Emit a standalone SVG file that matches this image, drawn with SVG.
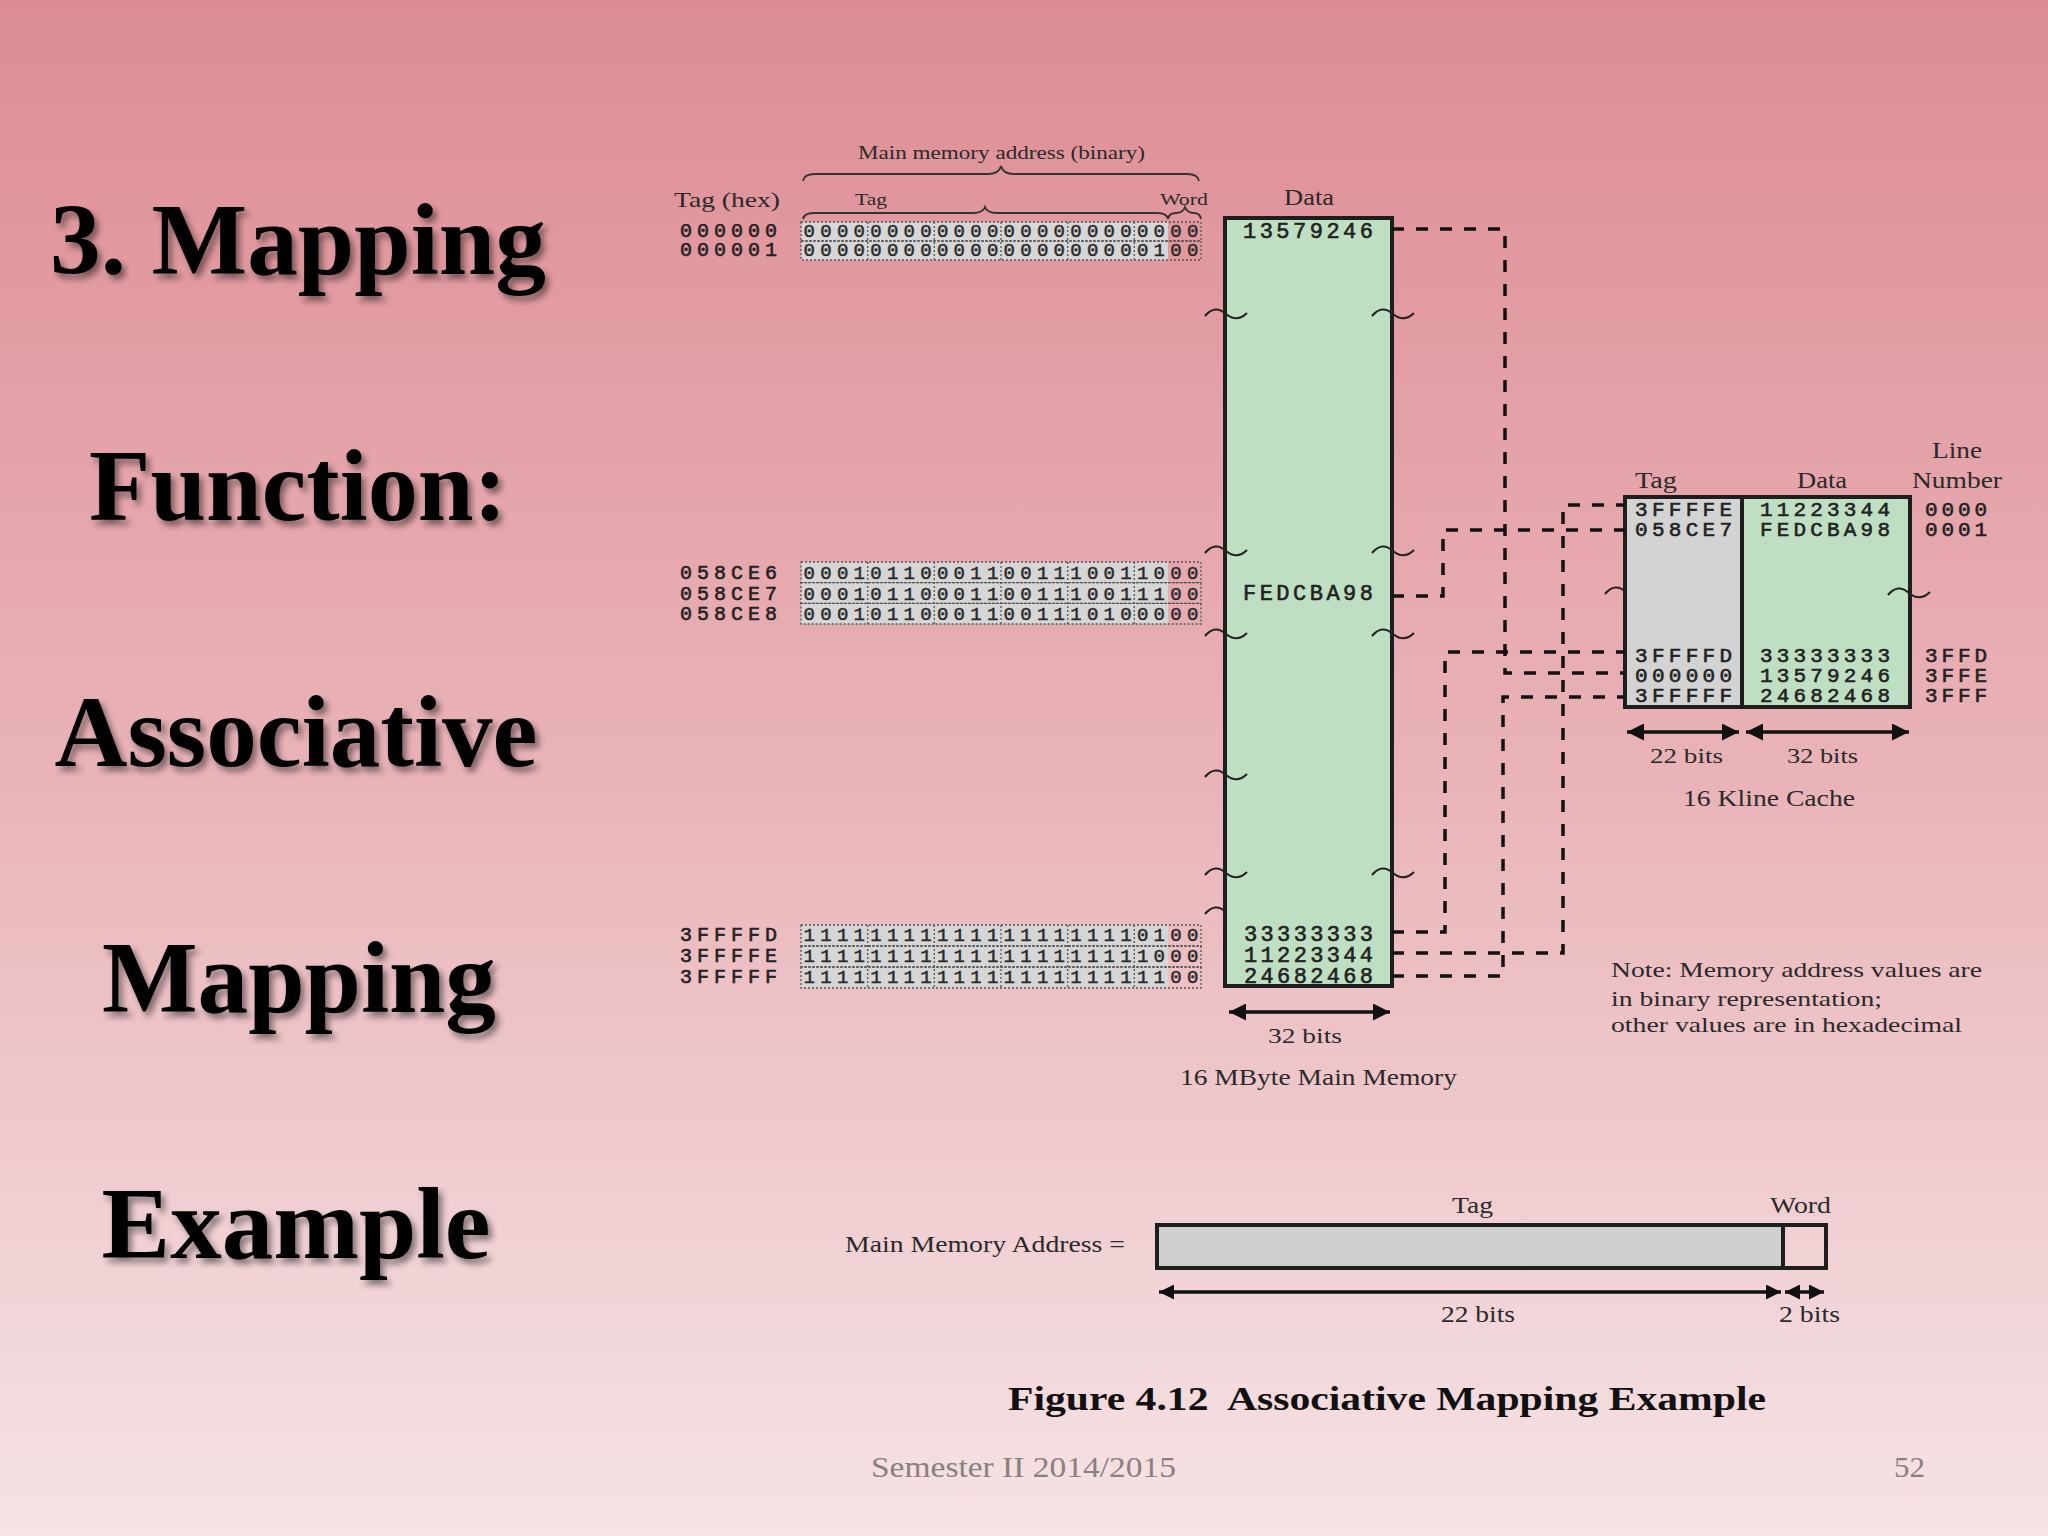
<svg xmlns="http://www.w3.org/2000/svg" xmlns:xlink="http://www.w3.org/1999/xlink" width="2048" height="1536" viewBox="0 0 2048 1536">
<defs>
  <linearGradient id="bg" x1="0" y1="0" x2="0" y2="1">
    <stop offset="0" stop-color="#dd8c93"/>
    <stop offset="0.5" stop-color="#e9b3b8"/>
    <stop offset="1" stop-color="#f5e3e5"/>
  </linearGradient>
  <filter id="shadow" x="-10%" y="-20%" width="130%" height="150%">
    <feDropShadow dx="4" dy="5" stdDeviation="3" flood-color="#000" flood-opacity="0.45"/>
  </filter>
  <marker id="ah" viewBox="0 0 10 10" refX="10" refY="5" markerWidth="22" markerHeight="17" markerUnits="userSpaceOnUse" orient="auto-start-reverse">
    <path d="M0,0 L10,5 L0,10 z" fill="#111"/>
  </marker>
  <marker id="ahs" viewBox="0 0 10 10" refX="10" refY="5" markerWidth="17" markerHeight="15" markerUnits="userSpaceOnUse" orient="auto-start-reverse">
    <path d="M0,0 L10,5 L0,10 z" fill="#111"/>
  </marker>
  <path id="sq" d="M-21,2 Q-11,-10 0,0 Q11,9 21,-1" fill="none" stroke="#222" stroke-width="2"/>
  <path id="sqh" d="M-21,2 Q-11,-10 0,0" fill="none" stroke="#222" stroke-width="2"/>
  <style>
    .title{font-family:"Liberation Serif","Times New Roman",serif;font-weight:bold;font-size:102px;fill:#000;text-anchor:middle}
    .lbl{font-family:"Liberation Serif","Times New Roman",serif;fill:#2a2a2a}
    .mono{font-family:"Liberation Mono","Courier New",monospace;fill:#222;stroke:#222;stroke-width:0.6}
    .bits{font-family:"Liberation Mono","Courier New",monospace;font-size:19px;fill:#2a2a2a;stroke:#2a2a2a;stroke-width:0.5}
    .rowtag{fill:#d6d6d6;stroke:none}
    .rowbox{fill:none;stroke:#555;stroke-width:1.3;stroke-dasharray:2 2}
    .sep{stroke:#555;stroke-width:1.3;stroke-dasharray:2 2}
    .brace{fill:none;stroke:#333;stroke-width:1.8}
    .box{stroke:#1e1e1e;stroke-width:4}
    .dash{fill:none;stroke:#111;stroke-width:3.5;stroke-dasharray:12 12}
    .arr{stroke:#111;stroke-width:3.5;fill:none}
    .foot{font-family:"Liberation Serif","Times New Roman",serif;fill:#8c7f80;font-size:30px}
  </style>
</defs>

<rect x="0" y="0" width="2048" height="1536" fill="url(#bg)"/>

<g id="title" filter="url(#shadow)">
  <text class="title" x="298" y="274" textLength="496" lengthAdjust="spacingAndGlyphs">3. Mapping</text>
  <text class="title" x="298" y="520" textLength="418" lengthAdjust="spacingAndGlyphs">Function:</text>
  <text class="title" x="296" y="766" textLength="483" lengthAdjust="spacingAndGlyphs">Associative</text>
  <text class="title" x="299" y="1012" textLength="394" lengthAdjust="spacingAndGlyphs">Mapping</text>
  <text class="title" x="296" y="1258" textLength="389" lengthAdjust="spacingAndGlyphs">Example</text>
</g>

<g id="address-table">
  <text class="lbl" x="858" y="159" font-size="19" textLength="287" lengthAdjust="spacingAndGlyphs">Main memory address (binary)</text>
  <path class="brace" d="M803,181 Q804,174 815,174 L988,174 Q999,174 1001,166 Q1003,174 1014,174 L1187,174 Q1198,174 1199,181"/>
  <text class="lbl" x="674" y="207" font-size="22" textLength="106" lengthAdjust="spacingAndGlyphs">Tag (hex)</text>
  <text class="lbl" x="855" y="205" font-size="16" textLength="32" lengthAdjust="spacingAndGlyphs">Tag</text>
  <text class="lbl" x="1160" y="205" font-size="16" textLength="48" lengthAdjust="spacingAndGlyphs">Word</text>
  <path class="brace" d="M803,219 Q804,213 814,213 L973,213 Q983,213 985,207 Q987,213 997,213 L1157,213 Q1167,213 1168,219"/>
  <path class="brace" d="M1168,219 Q1169,213 1176,213 Q1183,213 1185,207 Q1187,213 1194,213 Q1200,213 1201,219"/>

  <rect class="rowtag" x="801" y="222" width="367" height="38"/>
  <rect class="rowbox" x="801" y="222" width="400" height="19"/>
  <rect class="rowbox" x="801" y="241" width="400" height="19"/>
  <path class="sep" d="M867.7,222V260M934.3,222V260M1001,222V260M1067.7,222V260M1134.3,222V260"/>
  <text class="mono" x="680" y="237" font-size="20" textLength="97" lengthAdjust="spacing">000000</text>
  <text class="mono" x="680" y="256" font-size="20" textLength="97" lengthAdjust="spacing">000001</text>
  <text class="bits" x="803.6" y="237" textLength="394.7" lengthAdjust="spacing">000000000000000000000000</text>
  <text class="bits" x="803.6" y="256" textLength="394.7" lengthAdjust="spacing">000000000000000000000100</text>

  <rect class="rowtag" x="801" y="562" width="367" height="62"/>
  <rect class="rowbox" x="801" y="562" width="400" height="20.7"/>
  <rect class="rowbox" x="801" y="582.7" width="400" height="20.7"/>
  <rect class="rowbox" x="801" y="603.4" width="400" height="20.6"/>
  <path class="sep" d="M867.7,562V624M934.3,562V624M1001,562V624M1067.7,562V624M1134.3,562V624"/>
  <text class="mono" x="680" y="579" font-size="20" textLength="97" lengthAdjust="spacing">058CE6</text>
  <text class="mono" x="680" y="600" font-size="20" textLength="97" lengthAdjust="spacing">058CE7</text>
  <text class="mono" x="680" y="620" font-size="20" textLength="97" lengthAdjust="spacing">058CE8</text>
  <text class="bits" x="803.6" y="579" textLength="394.7" lengthAdjust="spacing">000101100011001110011000</text>
  <text class="bits" x="803.6" y="600" textLength="394.7" lengthAdjust="spacing">000101100011001110011100</text>
  <text class="bits" x="803.6" y="620" textLength="394.7" lengthAdjust="spacing">000101100011001110100000</text>

  <rect class="rowtag" x="801" y="925" width="367" height="63"/>
  <rect class="rowbox" x="801" y="925" width="400" height="21"/>
  <rect class="rowbox" x="801" y="946" width="400" height="21"/>
  <rect class="rowbox" x="801" y="967" width="400" height="21"/>
  <path class="sep" d="M867.7,925V988M934.3,925V988M1001,925V988M1067.7,925V988M1134.3,925V988"/>
  <text class="mono" x="680" y="941" font-size="20" textLength="97" lengthAdjust="spacing">3FFFFD</text>
  <text class="mono" x="680" y="962" font-size="20" textLength="97" lengthAdjust="spacing">3FFFFE</text>
  <text class="mono" x="680" y="983" font-size="20" textLength="97" lengthAdjust="spacing">3FFFFF</text>
  <text class="bits" x="803.6" y="941" textLength="394.7" lengthAdjust="spacing">111111111111111111110100</text>
  <text class="bits" x="803.6" y="962" textLength="394.7" lengthAdjust="spacing">111111111111111111111000</text>
  <text class="bits" x="803.6" y="983" textLength="394.7" lengthAdjust="spacing">111111111111111111111100</text>
</g>

<g id="main-memory">
  <text class="lbl" x="1284" y="205" font-size="24" textLength="50" lengthAdjust="spacingAndGlyphs">Data</text>
  <rect class="box" x="1225" y="218" width="167" height="768" fill="#bfdfc3"/>
  <text class="mono" x="1243" y="238" font-size="22" textLength="130" lengthAdjust="spacing">13579246</text>
  <text class="mono" x="1243" y="600" font-size="22" textLength="130" lengthAdjust="spacing">FEDCBA98</text>
  <text class="mono" x="1244" y="941" font-size="22" textLength="129" lengthAdjust="spacing">33333333</text>
  <text class="mono" x="1244" y="962" font-size="22" textLength="129" lengthAdjust="spacing">11223344</text>
  <text class="mono" x="1244" y="983" font-size="22" textLength="129" lengthAdjust="spacing">24682468</text>
  <use xlink:href="#sq" x="1226" y="314"/>
  <use xlink:href="#sq" x="1226" y="551"/>
  <use xlink:href="#sq" x="1226" y="634"/>
  <use xlink:href="#sq" x="1226" y="775"/>
  <use xlink:href="#sq" x="1226" y="873"/>
  <use xlink:href="#sqh" x="1226" y="912"/>
  <use xlink:href="#sq" x="1393" y="314"/>
  <use xlink:href="#sq" x="1393" y="551"/>
  <use xlink:href="#sq" x="1393" y="634"/>
  <use xlink:href="#sq" x="1393" y="873"/>
  <line class="arr" x1="1229" y1="1012" x2="1390" y2="1012" marker-start="url(#ah)" marker-end="url(#ah)"/>
  <text class="lbl" x="1268" y="1043" font-size="22" textLength="74" lengthAdjust="spacingAndGlyphs">32 bits</text>
  <text class="lbl" x="1180" y="1085" font-size="23" textLength="277" lengthAdjust="spacingAndGlyphs">16 MByte Main Memory</text>
</g>

<g id="cache">
  <text class="lbl" x="1635" y="488" font-size="23" textLength="42" lengthAdjust="spacingAndGlyphs">Tag</text>
  <text class="lbl" x="1797" y="488" font-size="23" textLength="50" lengthAdjust="spacingAndGlyphs">Data</text>
  <text class="lbl" x="1932" y="458" font-size="23" textLength="50" lengthAdjust="spacingAndGlyphs">Line</text>
  <text class="lbl" x="1912" y="488" font-size="23" textLength="90" lengthAdjust="spacingAndGlyphs">Number</text>
  <rect class="box" x="1625" y="497" width="117" height="210" fill="#d3d3d3"/>
  <rect class="box" x="1742" y="497" width="168" height="210" fill="#bfdfc3"/>
  <text class="mono" x="1635" y="516" font-size="21" textLength="97" lengthAdjust="spacing">3FFFFE</text>
  <text class="mono" x="1635" y="536" font-size="21" textLength="97" lengthAdjust="spacing">058CE7</text>
  <text class="mono" x="1635" y="662" font-size="21" textLength="97" lengthAdjust="spacing">3FFFFD</text>
  <text class="mono" x="1635" y="682" font-size="21" textLength="97" lengthAdjust="spacing">000000</text>
  <text class="mono" x="1635" y="702" font-size="21" textLength="97" lengthAdjust="spacing">3FFFFF</text>
  <text class="mono" x="1760" y="516" font-size="21" textLength="130" lengthAdjust="spacing">11223344</text>
  <text class="mono" x="1760" y="536" font-size="21" textLength="130" lengthAdjust="spacing">FEDCBA98</text>
  <text class="mono" x="1760" y="662" font-size="21" textLength="130" lengthAdjust="spacing">33333333</text>
  <text class="mono" x="1760" y="682" font-size="21" textLength="130" lengthAdjust="spacing">13579246</text>
  <text class="mono" x="1760" y="702" font-size="21" textLength="130" lengthAdjust="spacing">24682468</text>
  <text class="mono" x="1925" y="516" font-size="21" textLength="62" lengthAdjust="spacing">0000</text>
  <text class="mono" x="1925" y="536" font-size="21" textLength="62" lengthAdjust="spacing">0001</text>
  <text class="mono" x="1925" y="662" font-size="21" textLength="62" lengthAdjust="spacing">3FFD</text>
  <text class="mono" x="1925" y="682" font-size="21" textLength="62" lengthAdjust="spacing">3FFE</text>
  <text class="mono" x="1925" y="702" font-size="21" textLength="62" lengthAdjust="spacing">3FFF</text>
  <use xlink:href="#sqh" x="1626" y="592"/>
  <use xlink:href="#sq" x="1909" y="593"/>
  <line class="arr" x1="1627" y1="732" x2="1739" y2="732" marker-start="url(#ah)" marker-end="url(#ah)"/>
  <line class="arr" x1="1746" y1="732" x2="1909" y2="732" marker-start="url(#ah)" marker-end="url(#ah)"/>
  <text class="lbl" x="1650" y="763" font-size="22" textLength="73" lengthAdjust="spacingAndGlyphs">22 bits</text>
  <text class="lbl" x="1787" y="763" font-size="22" textLength="71" lengthAdjust="spacingAndGlyphs">32 bits</text>
  <text class="lbl" x="1683" y="806" font-size="23" textLength="172" lengthAdjust="spacingAndGlyphs">16 Kline Cache</text>
</g>

<g id="connectors">
  <path class="dash" d="M1392,229 H1505 V673 H1625"/>
  <path class="dash" d="M1392,596 H1443 V530 H1625"/>
  <path class="dash" d="M1392,932 H1445 V652 H1625"/>
  <path class="dash" d="M1392,953 H1563 V505 H1625"/>
  <path class="dash" d="M1392,976 H1503 V697 H1625"/>
</g>

<g id="note">
  <text class="lbl" x="1611" y="977" font-size="21" textLength="371" lengthAdjust="spacingAndGlyphs">Note: Memory address values are</text>
  <text class="lbl" x="1611" y="1006" font-size="21" textLength="271" lengthAdjust="spacingAndGlyphs">in binary representation;</text>
  <text class="lbl" x="1611" y="1032" font-size="21" textLength="351" lengthAdjust="spacingAndGlyphs">other values are in hexadecimal</text>
</g>

<g id="address-format">
  <text class="lbl" x="845" y="1252" font-size="23" textLength="280" lengthAdjust="spacingAndGlyphs">Main Memory Address =</text>
  <text class="lbl" x="1452" y="1213" font-size="23" textLength="41" lengthAdjust="spacingAndGlyphs">Tag</text>
  <text class="lbl" x="1770" y="1213" font-size="23" textLength="61" lengthAdjust="spacingAndGlyphs">Word</text>
  <rect class="box" x="1157" y="1225" width="626" height="43" fill="#cfcfcf"/>
  <rect class="box" x="1783" y="1225" width="43" height="43" fill="none"/>
  <line class="arr" x1="1159" y1="1292" x2="1781" y2="1292" marker-start="url(#ahs)" marker-end="url(#ahs)"/>
  <line class="arr" x1="1785" y1="1292" x2="1824" y2="1292" marker-start="url(#ahs)" marker-end="url(#ahs)"/>
  <text class="lbl" x="1441" y="1322" font-size="23" textLength="74" lengthAdjust="spacingAndGlyphs">22 bits</text>
  <text class="lbl" x="1779" y="1322" font-size="23" textLength="61" lengthAdjust="spacingAndGlyphs">2 bits</text>
</g>

<g id="caption">
  <text x="1008" y="1410" font-family="Liberation Serif, Times New Roman, serif" font-weight="bold" font-size="34" fill="#111" textLength="758" lengthAdjust="spacingAndGlyphs" xml:space="preserve">Figure 4.12  Associative Mapping Example</text>
</g>

<g id="footer">
  <text class="foot" x="871" y="1477" textLength="305" lengthAdjust="spacingAndGlyphs">Semester II 2014/2015</text>
  <text class="foot" x="1894" y="1477" textLength="31" lengthAdjust="spacingAndGlyphs">52</text>
</g>
</svg>
